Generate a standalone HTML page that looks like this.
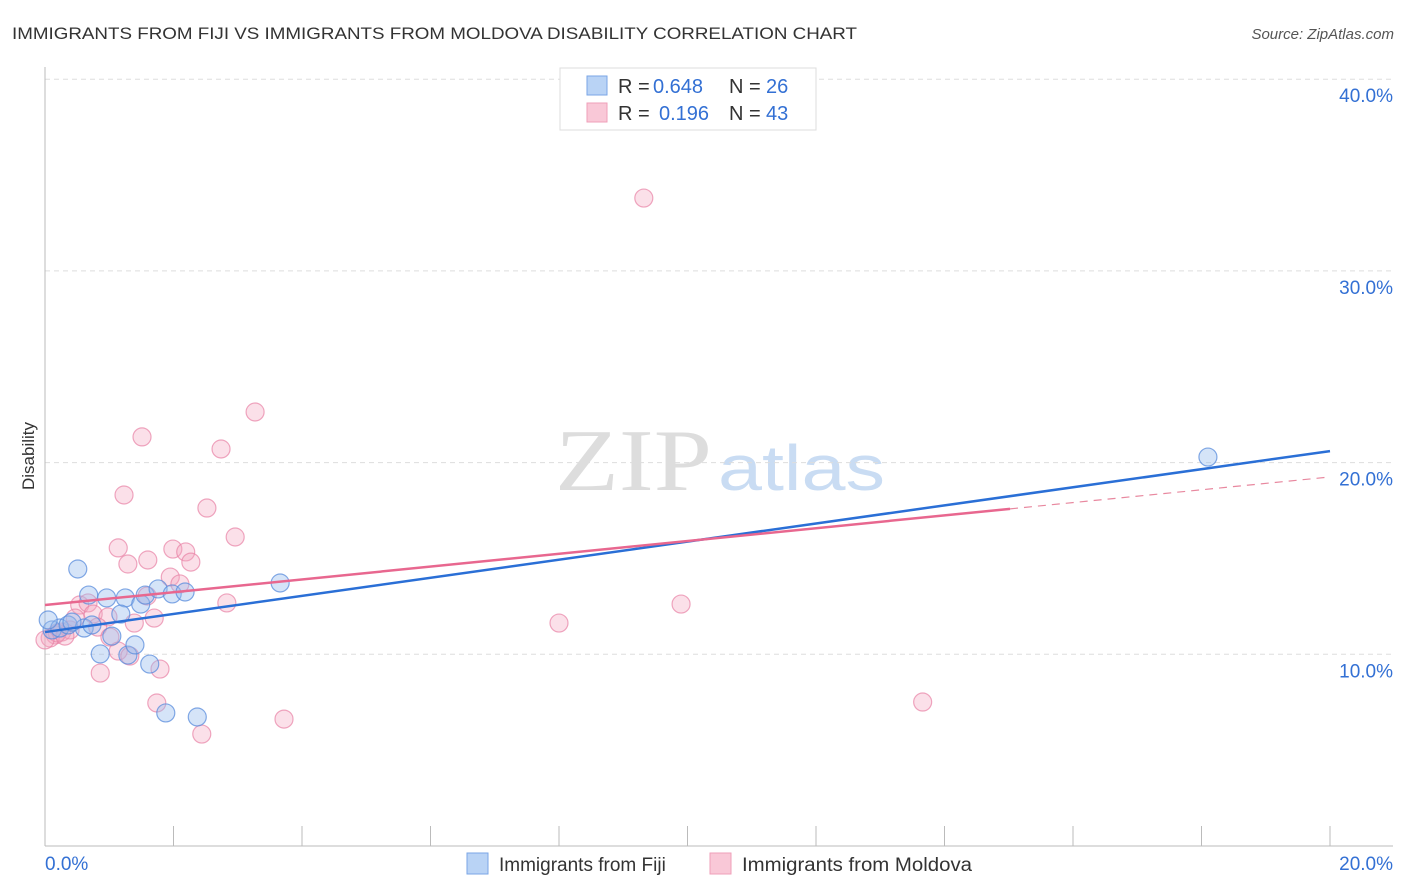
<!DOCTYPE html>
<html><head><meta charset="utf-8"><style>
body{margin:0;background:#fff;font-family:"Liberation Sans",sans-serif;}
svg{display:block}
</style></head><body>
<svg id="c" width="1406" height="892" xmlns="http://www.w3.org/2000/svg">
<text x="12" y="39" font-size="17" fill="#333" textLength="845" lengthAdjust="spacingAndGlyphs">IMMIGRANTS FROM FIJI VS IMMIGRANTS FROM MOLDOVA DISABILITY CORRELATION CHART</text>
<text x="1394" y="39" font-size="15" fill="#555" font-style="italic" text-anchor="end">Source: ZipAtlas.com</text>
<text x="34" y="456" font-size="17" fill="#333" text-anchor="middle" transform="rotate(-90 34 456)">Disability</text>
<g>
<text x="555" y="490" font-family="Liberation Serif,serif" font-size="88" fill="#ddd" textLength="157" lengthAdjust="spacingAndGlyphs">ZIP</text>
<text x="718" y="490" font-size="64" fill="#c9dcf3" textLength="167" lengthAdjust="spacingAndGlyphs">atlas</text>
</g>
<g id="grid"></g><g id="axes"></g><g id="marks"></g>
<g>
<rect x="560" y="68" width="256" height="62" fill="#fff" stroke="#ddd"/>
<rect x="587" y="76" width="20" height="19" fill="#b9d3f5" stroke="#7aa6e6"/>
<rect x="587" y="103" width="20" height="19" fill="#f9c8d7" stroke="#ef9fb9"/>
<text x="618" y="93" font-size="20" fill="#333">R =</text>
<text x="653" y="93" font-size="20" fill="#3370d4">0.648</text>
<text x="729" y="93" font-size="20" fill="#333">N =</text>
<text x="766" y="93" font-size="20" fill="#3370d4">26</text>
<text x="618" y="120" font-size="20" fill="#333">R =</text>
<text x="659" y="120" font-size="20" fill="#3370d4">0.196</text>
<text x="729" y="120" font-size="20" fill="#333">N =</text>
<text x="766" y="120" font-size="20" fill="#3370d4">43</text>
</g>
<g>
<rect x="467" y="853" width="21" height="21" fill="#b9d3f5" stroke="#7aa6e6"/>
<text x="499" y="871" font-size="19" fill="#333">Immigrants from Fiji</text>
<rect x="710" y="853" width="21" height="21" fill="#f9c8d7" stroke="#ef9fb9"/>
<text x="742" y="871" font-size="19" fill="#333" textLength="230" lengthAdjust="spacingAndGlyphs">Immigrants from Moldova</text>
</g>
</svg>
<script>
const yTicks=[10,20,30,40];
const yTickLabels=["10.0%","20.0%","30.0%","40.0%"];
const fijiX=[0.51,0.68,0.96,1.25,1.49,1.56,1.76,1.98,2.18,3.66,18.10,0.11,0.23,0.36,0.61,0.73,1.04,1.18,1.29,1.40,1.63,1.88,2.37,0.86,0.05,0.42];
const fijiY=[14.45,13.09,12.94,12.94,12.62,13.09,13.41,13.15,13.25,13.72,20.29,11.27,11.37,11.53,11.37,11.53,10.95,12.10,9.96,10.49,9.49,6.94,6.73,10.02,11.79,11.68];
const molX=[9.32,3.27,1.51,2.74,1.23,2.52,2.96,1.14,1.99,2.19,1.60,2.27,1.29,1.95,2.10,1.59,0.54,0.67,2.83,9.90,0.75,0.98,1.70,1.39,8.00,0.82,0.16,0.26,0.08,0.39,1.01,1.14,1.32,1.79,0.86,1.74,13.66,3.72,2.44,0.19,0.47,0.0,0.31];
const molY=[33.80,22.64,21.34,20.71,18.31,17.63,16.12,15.55,15.49,15.34,14.92,14.81,14.71,14.03,13.67,13.04,12.57,12.68,12.68,12.62,12.10,11.95,11.89,11.63,11.63,11.42,11.01,11.16,10.85,11.27,10.90,10.17,9.91,9.23,9.02,7.46,7.51,6.62,5.84,11.11,11.89,10.75,10.95];
const fijiTrend=[11.16,20.6];
const molTrend=[12.57,19.25];
const molSolidEnd=15.02;
const NS="http://www.w3.org/2000/svg";
const sx=v=>45+v*1285/20;
const sy=v=>846-v*19.17;
function mk(tag,attrs,parent){const e=document.createElementNS(NS,tag);for(const k in attrs)e.setAttribute(k,attrs[k]);document.getElementById(parent).appendChild(e);return e;}
yTicks.forEach((t,i)=>{
 const l=mk('line',{x1:45,x2:1393,y1:sy(t),y2:sy(t),stroke:'#ddd','stroke-dasharray':'5,4'},'grid');
 
 
 const tx=mk('text',{x:1393,y:sy(t)+23,'font-size':19,fill:'#3370d4','text-anchor':'end'},'grid');
 tx.textContent=yTickLabels[i];
 
 
});
const ax=mk('line',{x1:45,x2:45,y1:67,y2:846,stroke:'#bbb'},'axes');


const bx=mk('line',{x1:45,x2:1393,y1:846,y2:846,stroke:'#bbb'},'axes');


for(let i=0;i<=10;i++){const t=mk('line',{x1:sx(i*2),x2:sx(i*2),y1:826,y2:846,stroke:'#bbb'},'axes');
 
 }
const l0=mk('text',{x:45,y:870,'font-size':19,fill:'#3370d4'},'axes');l0.textContent='0.0%';


const l1=mk('text',{x:1393,y:870,'font-size':19,fill:'#3370d4','text-anchor':'end'},'axes');l1.textContent='20.0%';


molX.forEach((x,i)=>{const c=mk('circle',{cx:sx(x),cy:sy(molY[i]),r:9,fill:'rgba(244,165,192,0.35)',stroke:'rgba(232,130,165,0.7)','stroke-width':1.2},'marks');
 
 });
fijiX.forEach((x,i)=>{const c=mk('circle',{cx:sx(x),cy:sy(fijiY[i]),r:9,fill:'rgba(150,188,238,0.4)',stroke:'rgba(90,140,220,0.75)','stroke-width':1.2},'marks');
 
 });
const mAt=x=>molTrend[0]+(molTrend[1]-molTrend[0])*x/20;
const t1=mk('line',{x1:sx(0),y1:sy(fijiTrend[0]),x2:sx(20),y2:sy(fijiTrend[1]),stroke:'#2a6fd6','stroke-width':2.5},'marks');


const t2=mk('line',{x1:sx(0),y1:sy(mAt(0)),x2:sx(molSolidEnd),y2:sy(mAt(molSolidEnd)),stroke:'#e8678f','stroke-width':2.5},'marks');


const t3=mk('line',{x1:sx(molSolidEnd),y1:sy(mAt(molSolidEnd)),x2:sx(20),y2:sy(mAt(20)),stroke:'#e8889f','stroke-width':1.2,'stroke-dasharray':'8,6'},'marks');


</script>
</body></html>
